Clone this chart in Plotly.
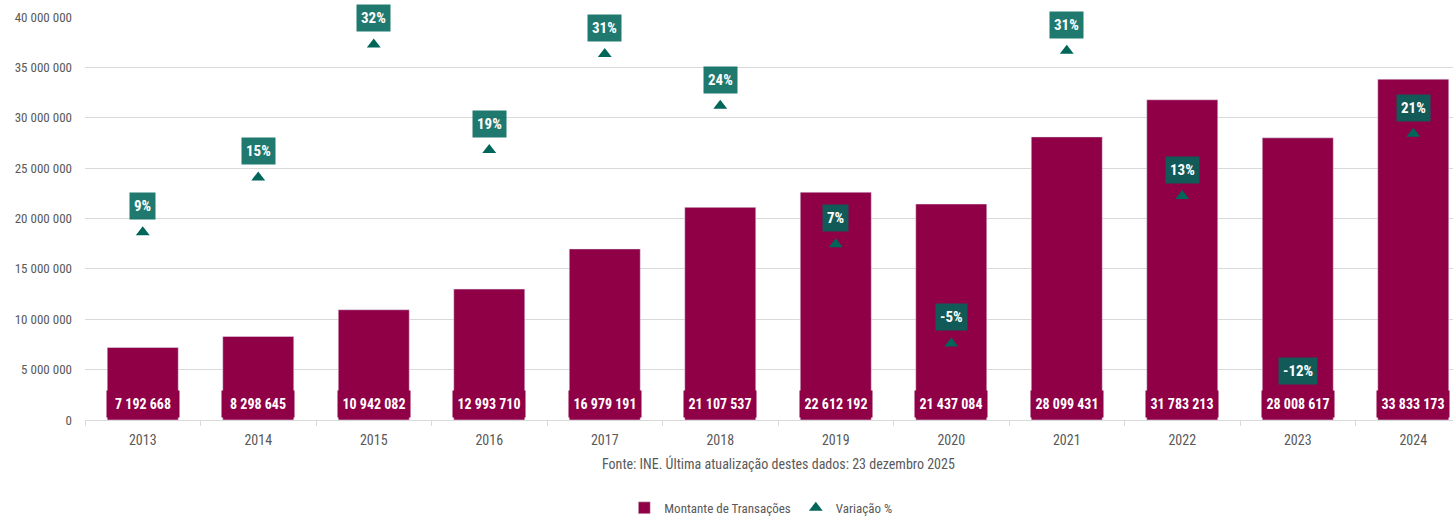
import plotly.graph_objects as go

years = ["2013", "2014", "2015", "2016", "2017", "2018", "2019", "2020", "2021", "2022", "2023", "2024"]
montante = [7192668, 8298645, 10942082, 12993710, 16979191, 21107537, 22612192, 21437084,
            28099431, 31783213, 28008617, 33833173]
montante_labels = ["7 192 668", "8 298 645", "10 942 082", "12 993 710", "16 979 191", "21 107 537",
                   "22 612 192", "21 437 084", "28 099 431", "31 783 213", "28 008 617", "33 833 173"]
variacao = [8.6, 15.4, 31.9, 18.8, 30.7, 24.3, 7.1, -5.2, 31.1, 13.1, -11.9, 20.8]
variacao_labels = ["9%", "15%", "32%", "19%", "31%", "24%", "7%", "-5%", "31%", "13%", "-12%", "21%"]
y_ticks = [0, 5000000, 10000000, 15000000, 20000000, 25000000, 30000000, 35000000, 40000000]
y_tick_labels = ["0", "5 000 000", "10 000 000", "15 000 000", "20 000 000", "25 000 000",
                 "30 000 000", "35 000 000", "40 000 000"]
source_text = "Fonte: INE. Última atualização destes dados: 23 dezembro 2025"

FONT = "Liberation Sans Narrow, Arial Narrow, Roboto Condensed, sans-serif"
BAR = "#8f0046"
TEAL = "#00665a"
TEAL_BOX = "rgba(0,102,90,0.88)"
GRAY = "#595959"
GRID = "#d9d9d9"

fig = go.Figure()
fig.add_trace(go.Bar(x=years, y=montante, name="Montante de Transações",
                     marker=dict(color=BAR), width=0.615, yaxis="y"))
fig.add_trace(go.Scatter(x=years, y=variacao, name="Variação %", mode="markers",
                         marker=dict(symbol="triangle-up", size=12, color=TEAL), yaxis="y2"))

annotations = []
for i, (lab, v) in enumerate(zip(variacao_labels, variacao)):
    annotations.append(dict(x=i, y=v, xref="x", yref="y2", text="<b>%s</b>" % lab, showarrow=False,
                            yshift=26, yanchor="middle", xanchor="center", bgcolor=TEAL_BOX, borderpad=4,
                            font=dict(family=FONT, size=15, color="white")))
for i, lab in enumerate(montante_labels):
    annotations.append(dict(x=i, y=0, xref="x", yref="y", text="<b>%s</b>" % lab, showarrow=False,
                            yanchor="bottom", xanchor="center", yshift=2, bgcolor=BAR, borderpad=2,
                            width=68, height=22, valign="middle",
                            font=dict(family=FONT, size=14, color="white")))
annotations.append(dict(x=5.5, y=-0.109, xref="x", yref="paper", text=source_text, showarrow=False,
                        yanchor="middle", xanchor="center", font=dict(family=FONT, size=14, color=GRAY)))

fig.update_layout(
    width=1453, height=516,
    margin=dict(l=85, r=0, t=17, b=96, autoexpand=False),
    paper_bgcolor="white", plot_bgcolor="white",
    font=dict(family=FONT, size=14, color=GRAY),
    bargap=0.385,
    xaxis=dict(type="category", range=[-0.5, 11.344], tickson="boundaries", ticks="outside",
               ticklen=5, tickcolor=GRID, showline=True, linecolor=GRID, linewidth=1, automargin=False,
               showgrid=False, tickfont=dict(family=FONT, size=14, color=GRAY), ticklabelstandoff=7),
    yaxis=dict(range=[0, 40000000], tickvals=y_ticks, ticktext=y_tick_labels, showgrid=True,
               gridcolor=GRID, gridwidth=1, zeroline=False, ticks="", ticklabelstandoff=12,
               automargin=False, tickfont=dict(family=FONT, size=13, color=GRAY)),
    yaxis2=dict(range=[-14.7, 35.3], overlaying="y", side="right", showgrid=False, zeroline=False,
                showticklabels=False, ticks="", automargin=False),
    showlegend=True,
    legend=dict(orientation="h", xref="paper", yref="paper", x=0.494, y=-0.218,
                xanchor="center", yanchor="middle", font=dict(family=FONT, size=13, color=GRAY),
                itemwidth=30, tracegroupgap=0, bgcolor="rgba(0,0,0,0)"),
    annotations=annotations,
)

fig.write_html("out.html", config={"displayModeBar": False},
               post_script="document.body.style.margin='0px';")
